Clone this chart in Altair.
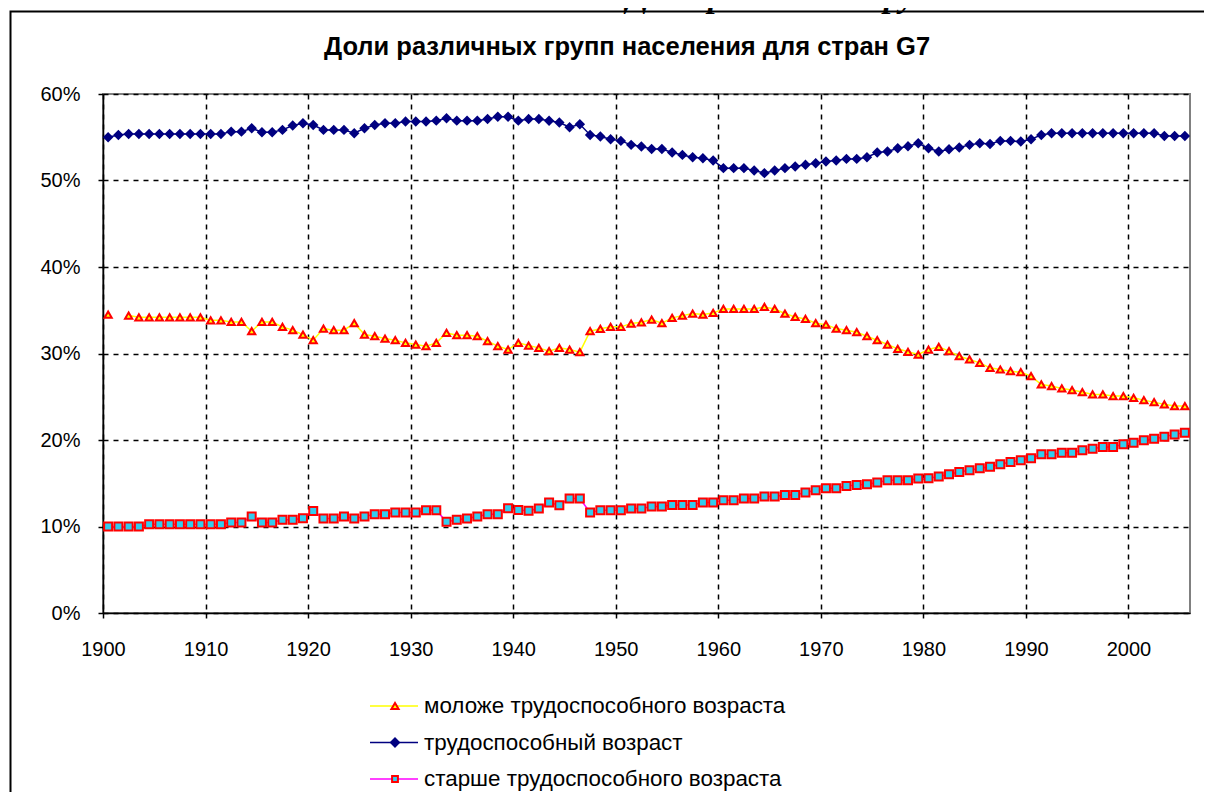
import altair as alt
import pandas as pd

# ---------------- data ----------------
years = list(range(1900, 2006))

young = [
    34.5, None, 34.38, 34.19, 34.19, 34.19, 34.19, 34.19, 34.19, 34.19,   # 1900-1909
    33.84, 33.84, 33.65, 33.65, 32.58, 33.65, 33.65, 33.08, 32.7, 32.19,  # 1910-1919
    31.54, 32.88, 32.7, 32.7, 33.5, 32.19, 32.0, 31.73, 31.54, 31.23,     # 1920-1929
    31.04, 30.85, 31.23, 32.38, 32.12, 32.12, 32.0, 31.42, 30.85, 30.46,  # 1930-1939
    31.23, 30.92, 30.65, 30.27, 30.65, 30.46, 30.15, 32.58, 32.85, 33.08, # 1940-1949
    33.08, 33.46, 33.61, 33.92, 33.5, 34.12, 34.38, 34.62, 34.5, 34.69,   # 1950-1959
    35.15, 35.15, 35.15, 35.15, 35.38, 35.15, 34.62, 34.23, 34.0, 33.5,   # 1960-1969
    33.34, 32.88, 32.7, 32.46, 32.0, 31.54, 31.04, 30.54, 30.2, 29.88,    # 1970-1979
    30.46, 30.77, 30.27, 29.69, 29.31, 28.92, 28.34, 28.15, 27.96, 27.84, # 1980-1989
    27.38, 26.42, 26.23, 25.96, 25.77, 25.54, 25.27, 25.27, 25.08, 25.08, # 1990-1999
    24.88, 24.61, 24.38, 24.12, 23.92, 23.92,                             # 2000-2005
]

working = [
    55.0, 55.27, 55.38, 55.38, 55.38, 55.38, 55.38, 55.38, 55.38, 55.38,  # 1900-1909
    55.38, 55.38, 55.65, 55.65, 56.04, 55.58, 55.58, 55.85, 56.35, 56.61, # 1910-1919
    56.42, 55.85, 55.85, 55.85, 55.46, 56.04, 56.42, 56.61, 56.61, 56.81, # 1920-1929
    56.81, 56.81, 56.92, 57.19, 56.92, 56.92, 56.92, 57.11, 57.38, 57.38, # 1930-1939
    56.92, 57.1, 57.1, 56.9, 56.7, 56.15, 56.5, 55.27, 55.08, 54.77,      # 1940-1949
    54.58, 54.12, 53.93, 53.65, 53.65, 53.23, 52.96, 52.69, 52.58, 52.31, # 1950-1959
    51.43, 51.43, 51.43, 51.15, 50.85, 51.15, 51.43, 51.62, 51.81, 52.0,  # 1960-1969
    52.2, 52.31, 52.5, 52.5, 52.69, 53.23, 53.35, 53.73, 53.95, 54.3,     # 1970-1979
    53.73, 53.35, 53.62, 53.81, 54.12, 54.31, 54.23, 54.58, 54.58, 54.5,  # 1980-1989
    54.77, 55.27, 55.46, 55.46, 55.46, 55.46, 55.46, 55.46, 55.46, 55.46, # 1990-1999
    55.46, 55.46, 55.46, 55.15, 55.15, 55.15,                             # 2000-2005
]

old = [
    10.0, 10.0, 10.0, 10.0, 10.27, 10.27, 10.27, 10.27, 10.27, 10.27,     # 1900-1909
    10.27, 10.27, 10.46, 10.46, 11.15, 10.46, 10.46, 10.77, 10.77, 10.96, # 1910-1919
    11.8, 10.92, 10.92, 11.15, 10.92, 11.15, 11.42, 11.42, 11.61, 11.61,  # 1920-1929
    11.61, 11.88, 11.88, 10.54, 10.77, 10.92, 11.15, 11.42, 11.42, 12.1,  # 1930-1939
    11.9, 11.81, 12.08, 12.77, 12.46, 13.23, 13.23, 11.62, 11.88, 11.88,  # 1940-1949
    11.88, 12.08, 12.08, 12.31, 12.31, 12.5, 12.5, 12.5, 12.77, 12.77,    # 1950-1959
    13.04, 13.04, 13.23, 13.23, 13.46, 13.46, 13.65, 13.65, 13.92, 14.19, # 1960-1969
    14.42, 14.42, 14.69, 14.81, 14.88, 15.08, 15.35, 15.35, 15.35, 15.56, # 1970-1979
    15.58, 15.77, 16.04, 16.31, 16.5, 16.73, 16.92, 17.19, 17.46, 17.65,  # 1980-1989
    17.88, 18.35, 18.35, 18.54, 18.54, 18.81, 19.0, 19.19, 19.19, 19.5,   # 1990-1999
    19.69, 19.96, 20.15, 20.38, 20.65, 20.85,                             # 2000-2005
]

series = [
    "моложе трудоспособного возраста",
    "трудоспособный возраст",
    "старше трудоспособного возраста",
]
x_ticks = [1900, 1910, 1920, 1930, 1940, 1950, 1960, 1970, 1980, 1990, 2000]
y_ticks = [0, 10, 20, 30, 40, 50, 60]

chart_title = "Доли различных групп населения для стран G7"
page_heading = "Рис.7 Доли различных групп населения  для стран G7"

# ---------------- styles ----------------
line_colors = ["#FFFF00", "#000080", "#FF00FF"]
marker_shapes = ["triangle-up", "diamond", "square"]
marker_fills = ["#FFFF00", "#000080", "#33CCEE"]
marker_strokes = ["#FF0000", "#000080", "#FF0000"]
marker_sizes = [52, 64, 34]

W, H = 1087, 519
FONT = "Liberation Sans"

rows = []
for name, vals in zip(series, [young, working, old]):
    for yr, v in zip(years, vals):
        rows.append({"year": yr, "series": name, "value": v})
df = pd.DataFrame(rows)

base = alt.Chart(df).transform_calculate(xpos="datum.year + 0.5")

x_enc = alt.X(
    "xpos:Q",
    scale=alt.Scale(domain=[1900, 2006], nice=False, zero=False),
    axis=alt.Axis(
        values=x_ticks, format="d", title=None, grid=True,
        labelFlush=False, tickSize=5, labelPadding=21,
    ),
)
y_enc = alt.Y(
    "value:Q",
    scale=alt.Scale(domain=[0, 60], nice=False),
    axis=alt.Axis(
        values=y_ticks, labelExpr="datum.value + '%'", title=None, grid=True,
        tickSize=5, labelPadding=18,
    ),
)

lines = base.mark_line(strokeWidth=1.5).encode(
    x=x_enc,
    y=y_enc,
    color=alt.Color("series:N", scale=alt.Scale(domain=series, range=line_colors), legend=None),
)

points = base.mark_point(filled=True, opacity=1, strokeWidth=2).encode(
    x=x_enc,
    y=y_enc,
    shape=alt.Shape("series:N", scale=alt.Scale(domain=series, range=marker_shapes), legend=None),
    fill=alt.Fill("series:N", scale=alt.Scale(domain=series, range=marker_fills), legend=None),
    stroke=alt.Stroke("series:N", scale=alt.Scale(domain=series, range=marker_strokes), legend=None),
    size=alt.Size("series:N", scale=alt.Scale(domain=series, range=marker_sizes), legend=None),
)

# ---------------- decorations ----------------
border = alt.Chart(pd.DataFrame({"k": [0]})).mark_rect(
    fill="transparent", stroke="black", strokeWidth=2
).encode(
    x=alt.value(-92.5), x2=alt.value(W + 300),
    y=alt.value(-82.5), y2=alt.value(H + 400),
)

title_layer = alt.Chart(pd.DataFrame({"t": [chart_title]})).mark_text(
    font=FONT, fontSize=25.5, fontWeight="bold", color="black",
    align="center", baseline="middle",
).encode(text="t:N", x=alt.value(524), y=alt.value(-47))

heading_layer = alt.Chart(pd.DataFrame({"t": [page_heading]})).mark_text(
    font="Liberation Serif", fontSize=33, fontWeight="bold", fontStyle="italic",
    color="black", align="left", baseline="alphabetic",
).encode(text="t:N", x=alt.value(437), y=alt.value(-87))

legend_layers = []
leg_y = [612, 648.5, 685]
for i, name in enumerate(series):
    ldf = pd.DataFrame({"label": [name]})
    legend_layers.append(
        alt.Chart(ldf).mark_rule(color=line_colors[i], strokeWidth=1.5).encode(
            x=alt.value(267), x2=alt.value(315), y=alt.value(leg_y[i])
        )
    )
    legend_layers.append(
        alt.Chart(ldf).mark_point(filled=True, opacity=1, strokeWidth=2).encode(
            x=alt.value(292), y=alt.value(leg_y[i]),
            shape=alt.value(marker_shapes[i]),
            fill=alt.value(marker_fills[i]),
            stroke=alt.value(marker_strokes[i]),
            size=alt.value(marker_sizes[i]),
        )
    )
    legend_layers.append(
        alt.Chart(ldf).mark_text(
            font=FONT, fontSize=22.4, color="black", align="left", baseline="middle"
        ).encode(text="label:N", x=alt.value(321), y=alt.value(leg_y[i]))
    )

chart = alt.layer(
    border, heading_layer, title_layer, lines, points, *legend_layers
).properties(
    width=W, height=H,
    autosize=alt.AutoSizeParams(type="none"),
    padding={"left": 95, "top": 86, "right": 14, "bottom": 179},
    background="white",
).configure_view(
    stroke="#808080", strokeWidth=2,
).configure_axis(
    labelFont=FONT, labelFontSize=20, labelColor="black",
    domainColor="black", domainWidth=1.5,
    tickColor="black", tickWidth=1.5,
    gridColor="black", gridDash=[5, 5], gridWidth=1.5, gridOpacity=1,
)

chart.save("out.html", embed_options={"renderer": "svg", "actions": False})
